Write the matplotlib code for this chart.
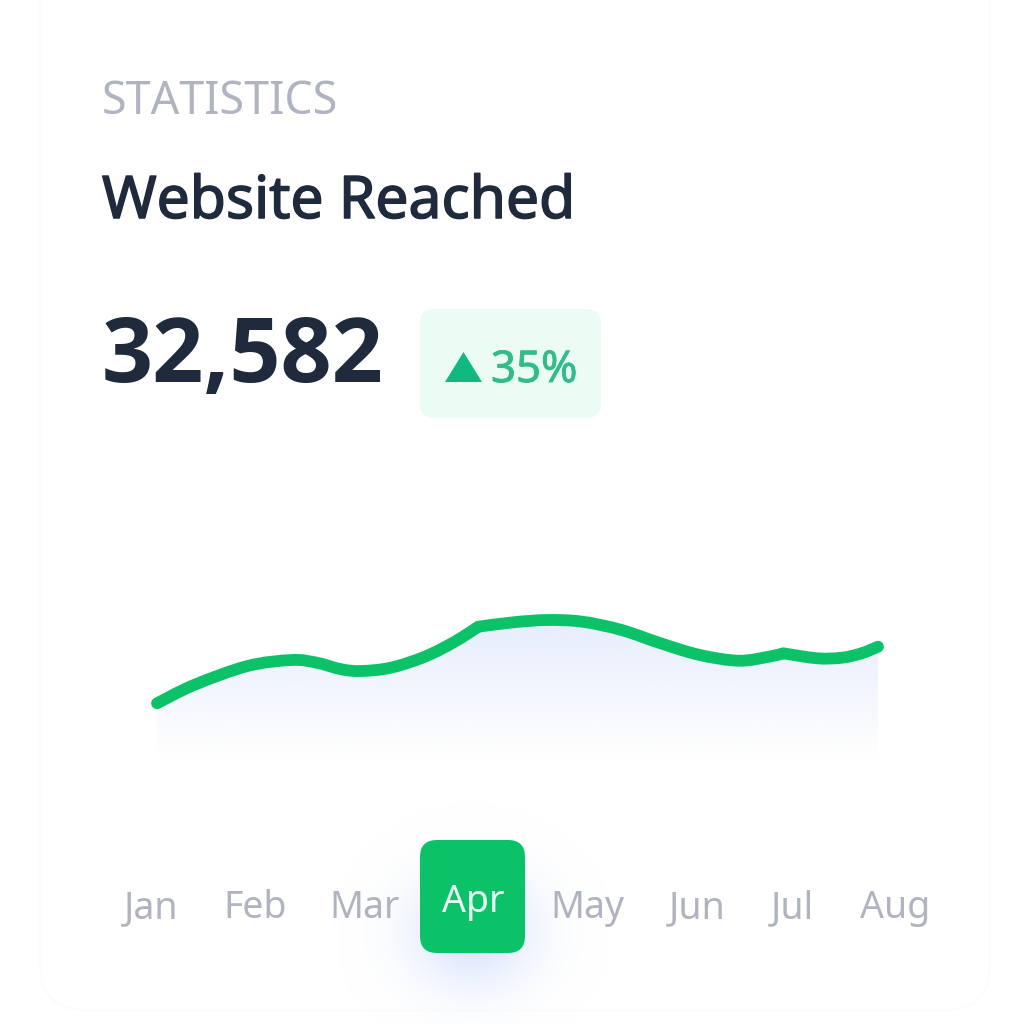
import numpy as np
import matplotlib
matplotlib.use('Agg')
import matplotlib.pyplot as plt
import matplotlib.patheffects as pe
from matplotlib.patches import FancyBboxPatch, PathPatch, Polygon
from matplotlib.path import Path

plt.rcParams['font.family'] = 'Noto Sans'

months = ['Jan', 'Feb', 'Mar', 'Apr', 'May', 'Jun', 'Jul', 'Aug']
active_month = 'Apr'

# month position / reach
reach_pos = [0, 0.36, 0.88, 1.31, 1.55, 1.79, 1.98, 2.27, 2.60, 2.89, 3.12, 3.46,
             3.79, 4.13, 4.51, 4.89, 5.27, 5.65, 5.94, 6.08, 6.41, 6.65, 6.84, 7]
reach_values = [46.7, 65, 84, 90, 87.3, 80.7, 79, 82.3, 93.3, 108.3, 123.3, 127.7,
                130, 128.3, 120, 106.7, 95, 89.3, 93.3, 96.7, 91.7, 92.3, 96.7, 103.3]

kicker = 'STATISTICS'
title = 'Website Reached'
total = '32,582'
change = '35%'

dark = '#1f2a3d'
grey = '#b0b3c0'
green = '#0cc269'


def smooth_path(xs, ys, corners=()):
    # catmull-rom through the read points, as bezier segments
    pts = np.column_stack([xs, ys])
    verts = [pts[0]]
    codes = [Path.MOVETO]
    for i in range(len(pts) - 1):
        # a corner point keeps its own tangent short so the bend stays sharp
        p0 = pts[i] if i in corners else pts[max(i - 1, 0)]
        p3 = pts[i + 1] if i + 1 in corners else pts[min(i + 2, len(pts) - 1)]
        verts += [pts[i] + (pts[i + 1] - p0) / 6, pts[i + 1] - (p3 - pts[i]) / 6, pts[i + 1]]
        codes += [Path.CURVE4] * 3
    return np.array(verts), codes


fig = plt.figure(figsize=(10.24, 10.24), dpi=100, facecolor='white')

# whole figure in pixels for the card furniture
page = fig.add_axes([0, 0, 1, 1])
page.set_xlim(0, 1024)
page.set_ylim(1024, 0)
page.axis('off')

page.add_patch(FancyBboxPatch((40, -40), 950, 1050, boxstyle='round,pad=0,rounding_size=45',
                              fc='white', ec='#fcfcfd', lw=1.5))

page.text(102, 114, kicker, fontsize=32.3, color=grey, va='baseline')
page.text(102, 218, title, fontsize=42.3, color=dark, va='baseline',
          path_effects=[pe.withStroke(linewidth=1.1, foreground=dark)])
page.text(102, 382, total, fontsize=64.5, color=dark, family='Open Sans', weight='bold', va='baseline')

page.add_patch(FancyBboxPatch((420, 309), 181, 109, boxstyle='round,pad=0,rounding_size=15',
                              fc='#ebfcf4', ec='none'))
page.add_patch(Polygon([(445, 382), (482, 382), (463.5, 352)], fc='#10b981', ec='none'))
page.text(491, 382, change, fontsize=31.5, color='#34bb8c', va='baseline',
          path_effects=[pe.withStroke(linewidth=0.6, foreground='#34bb8c')])

# soft blue glow behind the active month
gx, gy = np.meshgrid(np.linspace(340, 610, 270), np.linspace(790, 1024, 234))
glow = np.exp(-((gx - 473) ** 2 / (2 * 44.0 ** 2) + (gy - 930) ** 2 / (2 * 40.0 ** 2)))
rgba = np.zeros(glow.shape + (4,))
rgba[..., :3] = matplotlib.colors.to_rgb('#c4d5fa')
rgba[..., 3] = np.clip(glow, 0, 1) * 0.65
page.imshow(rgba, extent=(340, 610, 1024, 790), aspect='auto', zorder=2, interpolation='bilinear')
page.set_xlim(0, 1024)
page.set_ylim(1024, 0)

page.add_patch(FancyBboxPatch((420, 840), 105, 113, boxstyle='round,pad=0,rounding_size=17',
                              fc=green, ec='none', zorder=3))

label_x = [151, 255, 365, 473, 587, 697, 793, 895]
for name, x in zip(months, label_x):
    on = name == active_month
    page.text(x, 912 if on else 918, name, fontsize=27, ha='center', va='baseline',
              color='#eafff3' if on else grey, zorder=4)

# the chart itself
ax = fig.add_axes([157 / 1024, 1 - 770 / 1024, 721 / 1024, 180 / 1024])
ax.set_xlim(0, 7)
ax.set_ylim(-20, 160)
ax.axis('off')
ax.patch.set_alpha(0)

verts, codes = smooth_path(reach_pos, reach_values, corners=(10, 19))

fill_verts = np.vstack([verts, [[7, -20], [0, -20], verts[0]]])
fill_codes = codes + [Path.LINETO, Path.LINETO, Path.CLOSEPOLY]
area = PathPatch(Path(fill_verts, fill_codes), fc='none', ec='none', transform=ax.transData)
ax.add_patch(area)

shade = np.zeros((180, 2, 4))
shade[..., :3] = matplotlib.colors.to_rgb('#e6edfd')
shade[..., 3] = np.linspace(1, 0, 180)[:, None]
im = ax.imshow(shade, extent=(0, 7, -10, 135), origin='upper', aspect='auto', interpolation='bilinear')
ax.set_xlim(0, 7)
ax.set_ylim(-20, 160)
im.set_clip_path(area)

ax.add_patch(PathPatch(Path(verts, codes), fc='none', ec=green, lw=8.5, capstyle='round',
                       joinstyle='round', clip_on=False))

fig.savefig('out.png', dpi=100)
